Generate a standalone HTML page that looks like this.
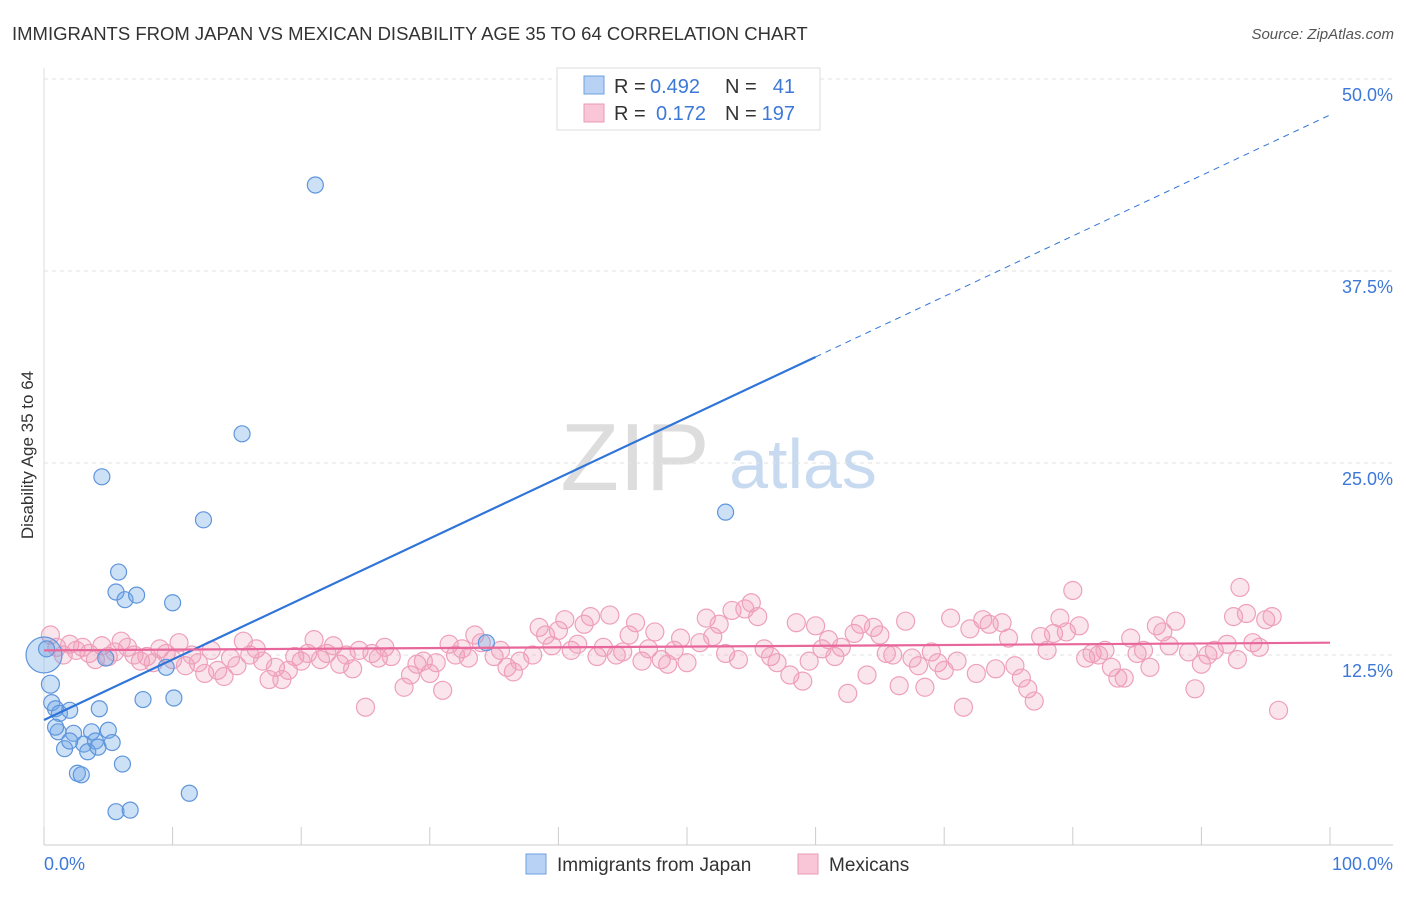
<!DOCTYPE html>
<html><head><meta charset="utf-8"><style>
body{margin:0;background:#fff;font-family:"Liberation Sans",sans-serif}
svg text{font-family:"Liberation Sans",sans-serif}
</style></head><body>
<svg id="chart" width="1406" height="892" xmlns="http://www.w3.org/2000/svg">
<text x="12" y="40" font-size="18.5" fill="#333">IMMIGRANTS FROM JAPAN VS MEXICAN DISABILITY AGE 35 TO 64 CORRELATION CHART</text>
<text x="1394" y="39" font-size="15" fill="#555" font-style="italic" text-anchor="end">Source: ZipAtlas.com</text>
<text transform="translate(33,455) rotate(-90)" font-size="17" fill="#333" text-anchor="middle">Disability Age 35 to 64</text>
<g>
<text x="635" y="490" font-size="96" fill="#ddd" font-family="Liberation Serif,serif" text-anchor="middle">ZIP</text>
<text x="803" y="488" font-size="70" fill="#c7daf0" text-anchor="middle">atlas</text>
</g>
<g id="grid"></g>
<g id="axes"></g>
<g id="pts"></g>
<g id="lines"></g>
<g>
<rect x="557" y="68" width="263" height="62" fill="#fff" stroke="#ddd"/>
<rect x="584" y="76" width="20" height="18" fill="#b7d2f5" stroke="#6fa0e0"/>
<rect x="584" y="104" width="20" height="18" fill="#f8c6d6" stroke="#eb9ab5"/>
<text x="614" y="93" font-size="20" fill="#333">R =</text>
<text x="650" y="93" font-size="20" fill="#3d78d8">0.492</text>
<text x="725" y="93" font-size="20" fill="#333">N =</text>
<text x="795" y="93" font-size="20" fill="#3d78d8" text-anchor="end">41</text>
<text x="614" y="120" font-size="20" fill="#333">R =</text>
<text x="656" y="120" font-size="20" fill="#3d78d8">0.172</text>
<text x="725" y="120" font-size="20" fill="#333">N =</text>
<text x="795" y="120" font-size="20" fill="#3d78d8" text-anchor="end">197</text>
</g>
<g>
<rect x="526" y="854" width="20" height="20" fill="#b7d2f5" stroke="#6fa0e0"/>
<text x="557" y="871" font-size="19" fill="#333">Immigrants from Japan</text>
<rect x="798" y="854" width="20" height="20" fill="#f8c6d6" stroke="#eb9ab5"/>
<text x="829" y="871" font-size="19" fill="#333">Mexicans</text>
</g>
</svg>
<script>
const yTicks=[12.5,25,37.5,50];
const yTickLabels=["12.5%","25.0%","37.5%","50.0%"];
const xTicks=[0,10,20,30,40,50,60,70,80,90,100];
const japanX=[21.1,15.4,4.5,12.4,53,5.8,5.6,6.3,7.2,10,4.8,9.5,0,0.5,0.6,0.9,1.2,2,4.3,7.7,10.1,1.1,2.3,3.7,5,1.6,3.1,4,5.3,3.4,4.2,2.6,2.9,6.1,5.6,6.7,11.3,34.4,0.9,2,0.2];
const japanY=[43.1,26.9,24.1,21.3,21.8,17.9,16.6,16.1,16.4,15.9,12.3,11.7,12.5,10.6,9.4,9,8.7,8.9,9,9.6,9.7,7.5,7.4,7.5,7.6,6.4,6.7,6.9,6.8,6.2,6.5,4.8,4.7,5.4,2.3,2.4,3.5,13.3,7.8,6.9,12.9];
const japanR=[8,8,8,8,8,8,8,8,8,8,8,8,18,9,8,8,8,8,8,8,8,8,8,8,8,8,8,8,8,8,8,8,8,8,8,8,8,8,8,8,8];
const mexX=[0.5,1,1.5,2,2.5,3,3.5,4,4.5,5,5.5,6,6.5,7,7.5,8,8.5,9,9.5,10,10.5,11,11.5,12,12.5,13,13.5,14,14.5,15,15.5,16,16.5,17,17.5,18,18.5,19,19.5,20,20.5,21,21.5,22,22.5,23,23.5,24,24.5,25,25.5,26,26.5,27,28,28.5,29,29.5,30,30.5,31,31.5,32,32.5,33,33.5,34,35,35.5,36,36.5,37,38,38.5,39,39.5,40,40.5,41,41.5,42,42.5,43,43.5,44,44.5,45,45.5,46,46.5,47,47.5,48,48.5,49,49.5,50,51,51.5,52,52.5,53,53.5,54,54.5,55,55.5,56,56.5,57,58,58.5,59,59.5,60,60.5,61,61.5,62,62.5,63,63.5,64,64.5,65,65.5,66,66.5,67,67.5,68,68.5,69,69.5,70,70.5,71,71.5,72,72.5,73,73.5,74,74.5,75,75.5,76,76.5,77,77.5,78,78.5,79,79.5,80,80.5,81,81.5,82,82.5,83,83.5,84,84.5,85,85.5,86,86.5,87,87.5,88,89,89.5,90,90.5,91,92,92.5,93,93.5,94,94.5,95,95.5,96,92.8];
const mexY=[13.8,13,12.5,13.2,12.8,13,12.6,12.2,13.1,12.4,12.7,13.4,13,12.5,12.1,12.4,12,12.9,12.6,12.2,13.3,11.8,12.5,12,11.3,12.8,11.5,11.1,12.3,11.8,13.4,12.5,12.9,12.1,10.9,11.7,10.9,11.5,12.4,12.1,12.6,13.5,12.2,12.6,13.1,11.9,12.5,11.6,12.8,9.1,12.6,12.3,13,12.4,10.4,11.2,11.9,12.1,11.3,12,10.2,13.2,12.5,12.9,12.3,13.8,13.3,12.4,12.8,11.7,11.4,12.1,12.5,14.3,13.8,13.1,14.1,14.8,12.8,13.2,14.5,15,12.4,13,15.1,12.5,12.7,13.8,14.6,12.1,12.9,14,12.2,11.9,12.8,13.6,12,13.3,14.9,13.7,14.5,12.6,15.4,12.2,15.5,15.9,15,12.9,12.4,12,11.2,14.6,10.8,12.1,14.4,12.9,13.5,12.4,13,10,13.9,14.5,11.2,14.3,13.8,12.6,12.5,10.5,14.7,12.3,11.8,10.4,12.7,12,11.5,14.9,12.1,9.1,14.2,11.3,14.8,14.5,11.6,14.6,13.6,11.8,11,10.3,9.5,13.7,12.8,13.9,14.9,14,16.7,14.4,12.3,12.6,12.5,12.8,11.7,11,11,13.6,12.6,12.8,11.7,14.4,14,13.1,14.7,12.7,10.3,11.9,12.5,12.8,13.2,15,16.9,15.2,13.3,13,14.8,15,8.9,12.2];
const japanTrend=[8.27,47.66];
const mexTrend=[12.8,13.3];
const L=44,R=1330,Y0=847,PX=192/12.5;
const sx=v=>L+(R-L)*v/100, sy=v=>Y0-v*PX;
const NS="http://www.w3.org/2000/svg";
function mk(t,a,p){const e=document.createElementNS(NS,t);for(const k in a)e.setAttribute(k,a[k]);p.appendChild(e);return e;}
const grid=document.getElementById('grid'),axes=document.getElementById('axes'),pts=document.getElementById('pts'),lines=document.getElementById('lines');
yTicks.forEach((v,i)=>{
const g=mk('line',{x1:L,x2:1393,y1:sy(v),y2:sy(v),stroke:'#e2e2e2','stroke-dasharray':'4,4'},grid);


const t=mk('text',{x:1393,y:sy(v)+22,'font-size':18,fill:'#3d78d8','text-anchor':'end'},grid);
t.textContent=yTickLabels[i];


});
const ax=mk('line',{x1:L,x2:1393,y1:845,y2:845,stroke:'#ccc'},axes);


const ay=mk('line',{x1:L,x2:L,y1:68,y2:845,stroke:'#ddd'},axes);


xTicks.forEach(v=>{
const t=mk('line',{x1:sx(v),x2:sx(v),y1:827,y2:845,stroke:'#ccc'},axes);


});
const x0=mk('text',{x:44,y:870,'font-size':18,fill:'#3d78d8'},axes);x0.textContent='0.0%';


const x1=mk('text',{x:1393,y:870,'font-size':18,fill:'#3d78d8','text-anchor':'end'},axes);x1.textContent='100.0%';


mexX.forEach((x,i)=>{
const c=mk('circle',{cx:sx(x),cy:sy(mexY[i]),r:9,fill:'rgba(240,150,180,0.25)',stroke:'#eea0bb','stroke-width':1.2},pts);


});
japanX.forEach((x,i)=>{
const c=mk('circle',{cx:sx(x),cy:sy(japanY[i]),r:japanR[i],fill:'rgba(110,165,230,0.35)',stroke:'#5f95dc','stroke-width':1.2},pts);


});
const jAt=x=>japanTrend[0]+(japanTrend[1]-japanTrend[0])*x/100;
const l1=mk('line',{x1:sx(0),y1:sy(jAt(0)),x2:sx(60),y2:sy(jAt(60)),stroke:'#2f74d8','stroke-width':2.2},lines);


const l2=mk('line',{x1:sx(60),y1:sy(jAt(60)),x2:sx(100),y2:sy(jAt(100)),stroke:'#2f74d8','stroke-width':1,'stroke-dasharray':'6,5'},lines);


const l3=mk('line',{x1:sx(0),y1:sy(mexTrend[0]),x2:sx(100),y2:sy(mexTrend[1]),stroke:'#e8679a','stroke-width':2.2},lines);


</script>
</body></html>
